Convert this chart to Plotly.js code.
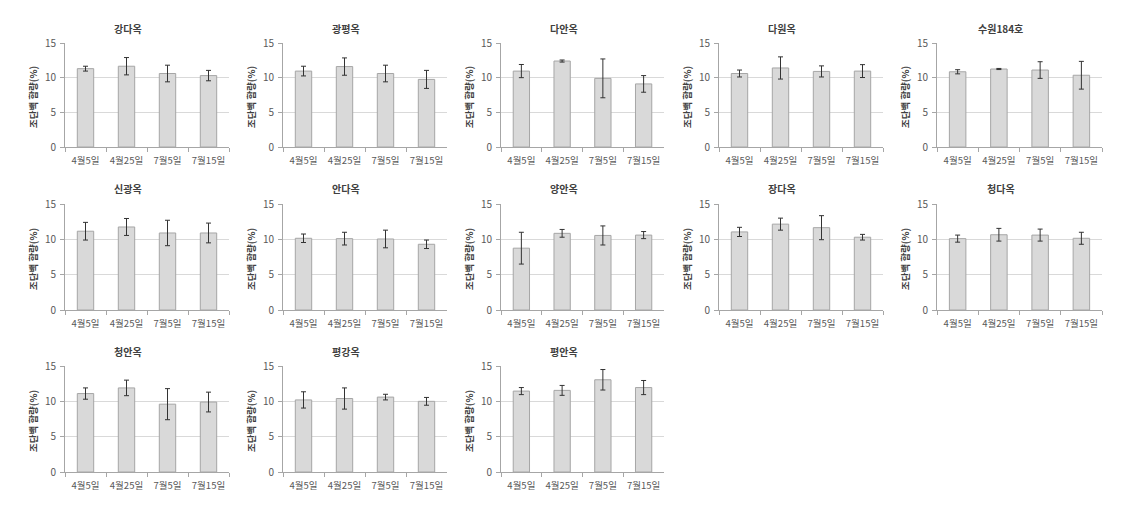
<!DOCTYPE html>
<html>
<head>
<meta charset="utf-8">
<script src="https://cdn.plot.ly/plotly-3.0.1.min.js"></script>
<style>html,body{margin:0;padding:0;background:#fff;}#chart{width:1132px;height:515px;}</style>
</head>
<body>
<div id="chart"></div>
<script>
const categories = ['4월5일', '4월25일', '7월5일', '7월15일'];
const varieties = ['강다옥', '광평옥', '다안옥', '다원옥', '수원184호',
                   '신광옥', '안다옥', '양안옥', '장다옥', '청다옥',
                   '청안옥', '평강옥', '평안옥'];
const meanValues = [
  [11.3, 11.65, 10.6, 10.3],
  [10.95, 11.6, 10.6, 9.75],
  [10.95, 12.4, 9.9, 9.1],
  [10.6, 11.4, 10.9, 10.95],
  [10.85, 11.25, 11.1, 10.35],
  [11.15, 11.75, 10.9, 10.9],
  [10.15, 10.1, 10.05, 9.3],
  [8.75, 10.85, 10.55, 10.6],
  [11.05, 12.15, 11.65, 10.3],
  [10.1, 10.65, 10.6, 10.15],
  [11.1, 11.9, 9.6, 9.9],
  [10.2, 10.4, 10.6, 10.0],
  [11.45, 11.55, 13.05, 11.95]
];
const errorValues = [
  [0.35, 1.25, 1.2, 0.75],
  [0.7, 1.25, 1.2, 1.3],
  [0.95, 0.15, 2.8, 1.2],
  [0.5, 1.6, 0.8, 0.93],
  [0.3, 0.08, 1.2, 2.0],
  [1.25, 1.2, 1.8, 1.4],
  [0.6, 0.9, 1.25, 0.6],
  [2.25, 0.55, 1.35, 0.5],
  [0.65, 0.85, 1.7, 0.4],
  [0.5, 0.9, 0.85, 0.85],
  [0.8, 1.1, 2.2, 1.4],
  [1.15, 1.5, 0.4, 0.55],
  [0.5, 0.7, 1.45, 1.0]
];
const yTitle = '조단백 함량(%)';

const W = 1132, H = 515;
const colX = [[65, 229], [283, 447], [501, 664], [719, 883], [937, 1102]];
const rowY = [[43, 147], [204, 310], [366, 472]];
const FONT = '"Noto Sans CJK KR", "Noto Sans", sans-serif';

const traces = [];
const layout = {
  width: W, height: H,
  margin: {l: 0, r: 0, t: 0, b: 0},
  paper_bgcolor: '#ffffff', plot_bgcolor: '#ffffff',
  showlegend: false,
  font: {family: FONT, color: '#595959'},
  bargap: 0.6,
  annotations: []
};

varieties.forEach((name, i) => {
  const r = Math.floor(i / 5), c = i % 5;
  const n = i + 1;
  const xa = 'x' + (n === 1 ? '' : n), ya = 'y' + (n === 1 ? '' : n);
  const [x0, x1] = colX[c];
  const [y0, y1] = rowY[r];
  traces.push({
    type: 'bar', x: categories, y: meanValues[i],
    xaxis: xa, yaxis: ya,
    marker: {color: '#d9d9d9', line: {color: '#a6a6a6', width: 1}},
    error_y: {type: 'data', array: errorValues[i], visible: true,
              color: '#333333', thickness: 1, width: 2.5},
    hoverinfo: 'skip'
  });
  const xKey = 'xaxis' + (n === 1 ? '' : n), yKey = 'yaxis' + (n === 1 ? '' : n);
  layout[xKey] = {
    domain: [x0 / W, x1 / W], anchor: ya,
    type: 'category', showgrid: false, zeroline: false,
    showline: true, linecolor: '#a6a6a6', linewidth: 1,
    ticks: 'outside', tickson: 'boundaries', ticklen: 4, tickcolor: '#a6a6a6',
    tickangle: 0, ticklabelstandoff: 5,
    tickfont: {size: 9.5, color: '#595959', family: FONT},
    fixedrange: true
  };
  layout[yKey] = {
    domain: [1 - y1 / H, 1 - y0 / H], anchor: xa,
    range: [0, 15], tickvals: [0, 5, 10, 15],
    showgrid: true, gridcolor: '#d9d9d9', gridwidth: 1,
    zeroline: false, showline: true, linecolor: '#a6a6a6', linewidth: 1,
    ticks: 'outside', ticklen: 4, tickcolor: '#a6a6a6', ticklabelstandoff: 2,
    tickfont: {size: 10, color: '#595959', family: FONT},
    fixedrange: true
  };
  layout.annotations.push({
    text: '<b>' + name + '</b>', xref: 'paper', yref: 'paper',
    x: ((x0 + x1) / 2 - 19) / W, y: 1 - (y0 - 15) / H,
    xanchor: 'center', yanchor: 'middle', showarrow: false,
    font: {size: 10, color: '#404040', family: FONT}
  });
  layout.annotations.push({
    text: '<b>' + yTitle + '</b>', xref: 'paper', yref: 'paper',
    x: (x0 - 32) / W, y: 1 - ((y0 + y1) / 2 + 2) / H,
    xanchor: 'center', yanchor: 'middle', showarrow: false, textangle: -90,
    font: {size: 9.5, color: '#404040', family: FONT}
  });
});

Plotly.newPlot('chart', traces, layout, {displayModeBar: false, staticPlot: true});
</script>
</body>
</html>
